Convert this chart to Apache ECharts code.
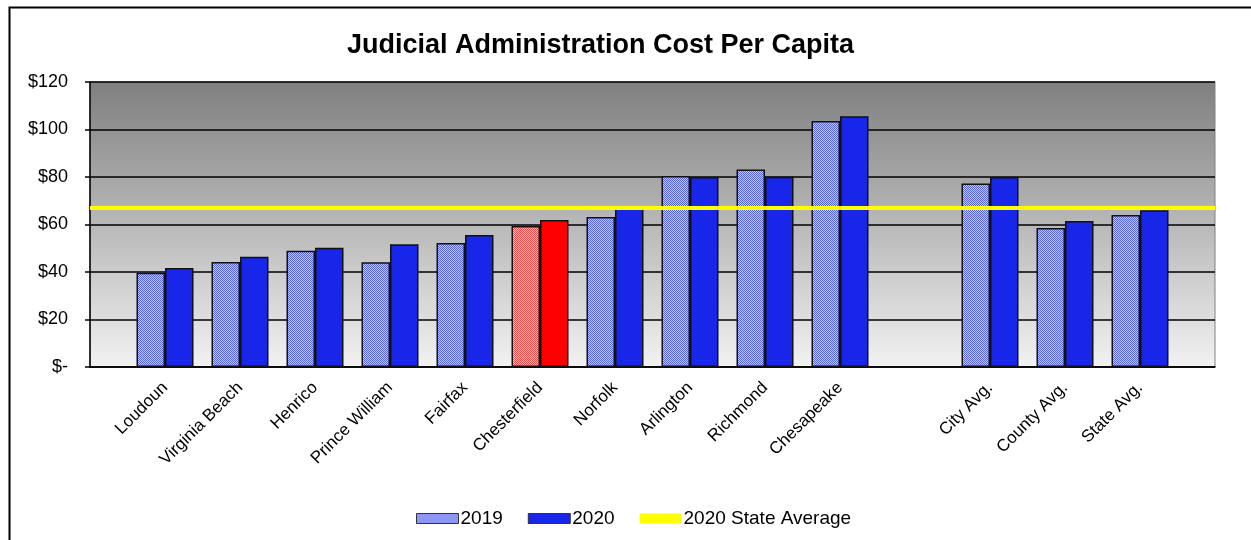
<!DOCTYPE html>
<html>
<head>
<meta charset="utf-8">
<title>Judicial Administration Cost Per Capita</title>
<script src="https://cdn.jsdelivr.net/npm/echarts@6/dist/echarts.min.js"></script>
<style>
  html, body { margin: 0; padding: 0; background: #fff; }
  #chart { width: 1251px; height: 540px; }
</style>
</head>
<body>
<div id="chart"></div>
<script>
// localities, then the averages group
const localities = ['Loudoun', 'Virginia Beach', 'Henrico', 'Prince William', 'Fairfax',
  'Chesterfield', 'Norfolk', 'Arlington', 'Richmond', 'Chesapeake'];
const local2019 = [39.7, 44.2, 49.0, 44.1, 52.2, 59.4, 63.2, 80.4, 83.2, 103.6];
const local2020 = [41.7, 46.4, 50.2, 51.7, 55.6, 61.9, 67.8, 80.0, 80.1, 105.6];

const averages = ['City Avg.', 'County Avg.', 'State Avg.'];
const avg2019 = [77.3, 58.5, 64.0];
const avg2020 = [80.0, 61.5, 66.0];

const stateAvg2020 = 67.1;
const highlight = 'Chesterfield';

const yTicks = [0, 20, 40, 60, 80, 100, 120];

const FONT = 'Arial, "Liberation Sans", sans-serif';

// small 2x2 checker tile, like the dotted Excel fill
function checker(a, b) {
  const c = document.createElement('canvas');
  c.width = 2; c.height = 2;
  const ctx = c.getContext('2d');
  ctx.fillStyle = b; ctx.fillRect(0, 0, 2, 2);
  ctx.fillStyle = a; ctx.fillRect(0, 0, 1, 1); ctx.fillRect(1, 1, 1, 1);
  return { image: c, repeat: 'repeat' };
}
const bluePattern = checker('#5664ee', '#c4c9fb');
const redPattern = checker('#ff4a4a', '#ffc4c4');
const blue = '#1726e8';
const red = '#ff0000';

// blank slots at both ends and between the groups (axis runs edge to edge)
const cats = [''].concat(localities, [''], averages, ['']);
function pad(a, b) { return [null].concat(a, [null], b, [null]); }

const s2019 = pad(local2019.map((v, i) => localities[i] === highlight
  ? { value: v, itemStyle: { color: redPattern } } : v), avg2019);
const s2020 = pad(local2020.map((v, i) => localities[i] === highlight
  ? { value: v, itemStyle: { color: red } } : v), avg2020);

const chart = echarts.init(document.getElementById('chart'));

const option = {
  backgroundColor: '#fff',
  animation: false,
  textStyle: { fontFamily: FONT },
  graphic: [{
    type: 'rect',
    left: 7, top: 5,
    shape: { width: 1300, height: 600 },
    style: { fill: 'none', stroke: '#000', lineWidth: 2 },
    silent: true
  }],
  title: {
    text: 'Judicial Administration Cost Per Capita',
    left: 342,
    top: 27,
    textStyle: { fontFamily: FONT, fontSize: 27, fontWeight: 'bold', color: '#000' }
  },
  legend: {
    left: 411,
    top: 504,
    itemWidth: 42,
    itemHeight: 10,
    itemGap: 25,
    textStyle: { fontFamily: FONT, fontSize: 19, color: '#000', padding: [0, 0, 0, -3] },
    data: [
      { name: '2019', icon: 'rect', itemStyle: { color: bluePattern, borderColor: '#333', borderWidth: 1 } },
      { name: '2020', icon: 'rect', itemStyle: { color: blue, borderColor: '#333', borderWidth: 1 } },
      { name: '2020 State Average', icon: 'rect', itemStyle: { color: '#ffff00' } }
    ]
  },
  grid: {
    left: 90,
    right: 36,
    top: 82,
    bottom: 173,
    show: true,
    borderColor: '#808080',
    borderWidth: 1,
    backgroundColor: new echarts.graphic.LinearGradient(0, 0, 0, 1, [
      { offset: 0, color: '#7f7f7f' },
      { offset: 1, color: '#f2f2f2' }
    ])
  },
  xAxis: {
    type: 'category',
    data: cats,
    boundaryGap: false,
    axisLine: { lineStyle: { color: '#000', width: 1.5 } },
    axisTick: { show: false },
    axisLabel: {
      interval: 0,
      rotate: 45,
      margin: 18,
      fontFamily: FONT,
      fontSize: 17,
      color: '#000'
    },
    splitLine: { show: false }
  },
  yAxis: {
    type: 'value',
    min: yTicks[0],
    max: yTicks[yTicks.length - 1],
    interval: yTicks[1] - yTicks[0],
    axisLine: { show: true, lineStyle: { color: '#000', width: 1.5 } },
    axisTick: { show: true, length: 5, lineStyle: { color: '#000', width: 1.5 } },
    axisLabel: {
      margin: 22,
      fontFamily: FONT,
      fontSize: 18,
      color: '#000',
      formatter: v => v === 0 ? '$-' : '$' + v
    },
    splitLine: { show: true, lineStyle: { color: '#000', width: 1.5 } }
  },
  series: [
    {
      name: '2019',
      type: 'bar',
      data: s2019,
      barWidth: 28.5,
      barGap: '0%',
      itemStyle: { color: bluePattern, borderColor: '#111', borderWidth: 1.5 }
    },
    {
      name: '2020',
      type: 'bar',
      data: s2020,
      barWidth: 28.5,
      barGap: '0%',
      itemStyle: { color: blue, borderColor: '#111', borderWidth: 1.5 }
    },
    {
      name: '2020 State Average',
      type: 'line',
      data: [],
      symbol: 'none',
      itemStyle: { color: '#ffff00' },
      lineStyle: { color: '#ffff00', width: 4 },
      markLine: {
        silent: true,
        symbol: 'none',
        label: { show: false },
        lineStyle: { color: '#ffff00', width: 4, type: 'solid' },
        data: [{ yAxis: stateAvg2020 }]
      }
    }
  ]
};

chart.setOption(option);
</script>
</body>
</html>
